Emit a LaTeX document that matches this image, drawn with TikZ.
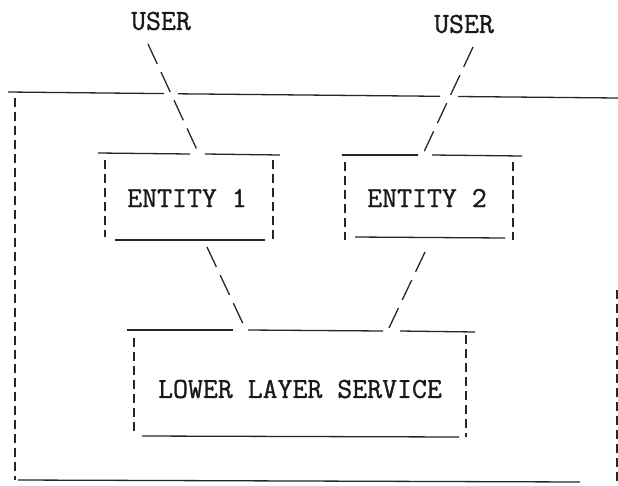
\documentclass[tikz,border=0pt]{standalone}
\usepackage{fontspec}
\setmonofont{Latin Modern Mono}[FakeBold=1]
\begin{document}
\begin{tikzpicture}[x=1pt,y=-1pt,
  solidline/.style={line width=1.3pt,black!85},
  vdash/.style={line width=1.5pt,black!85,dash pattern=on 9pt off 5pt},
  ddash/.style={line width=1.3pt,black!85,dash pattern=on 22pt off 9pt},
  lbl/.style={font=\ttfamily\fontsize{29}{32}\selectfont,inner sep=0pt,text=black!90}]
\useasboundingbox (0,0) rectangle (618,485);
% labels
\node[lbl] (u1) at (161,21) {USER};
\node[lbl] (u2) at (464,24) {USER};
\node[lbl] (e1) at (187,198) {ENTITY 1};
\node[lbl] (e2) at (427,198) {ENTITY 2};
\node[lbl] (ls) at (300,389) {LOWER LAYER SERVICE};
% connector end points
\coordinate (u1s) at (148,44);
\coordinate (e1n) at (198,152);
\coordinate (u2s) at (473,47);
\coordinate (e2n) at (423,154);
\coordinate (e1s) at (207,247);
\coordinate (lsl) at (245,328);
\coordinate (e2s) at (425,252);
\coordinate (lsr) at (388,330);
% outer frame
\draw[solidline] (8,92) -- (164,93.6);
\draw[solidline] (178,93.8) -- (440,96.3);
\draw[solidline] (458,96.5) -- (618,98);
\draw[vdash] (15,98) -- (15,480);
\draw[solidline] (18,480) -- (580,482);
\draw[vdash] (617,290) -- (617,484);
% entity 1 box
\draw[solidline] (98,153) -- (190,154);
\draw[solidline] (205,154) -- (280,155);
\draw[vdash] (105,160) -- (105,237);
\draw[vdash] (273,160) -- (273,240);
\draw[solidline] (115,240) -- (265,240);
% entity 2 box
\draw[solidline] (342,155) -- (418,155);
\draw[solidline] (432,155) -- (522,156);
\draw[vdash] (345,162) -- (345,240);
\draw[vdash] (513,162) -- (513,240);
\draw[solidline] (355,237) -- (505,238);
% lower layer service box
\draw[solidline] (127,330) -- (233,330);
\draw[solidline] (248,330) -- (383,331);
\draw[solidline] (400,331) -- (475,332);
\draw[vdash] (134,338) -- (134,434);
\draw[vdash] (466,335) -- (466,437);
\draw[solidline] (142,436) -- (459,437);
% connectors
\draw[ddash] (u1s) -- (e1n);
\draw[ddash] (u2s) -- (e2n);
\draw[ddash] (e1s) -- (lsl);
\draw[ddash] (e2s) -- (lsr);
\end{tikzpicture}
\end{document}
